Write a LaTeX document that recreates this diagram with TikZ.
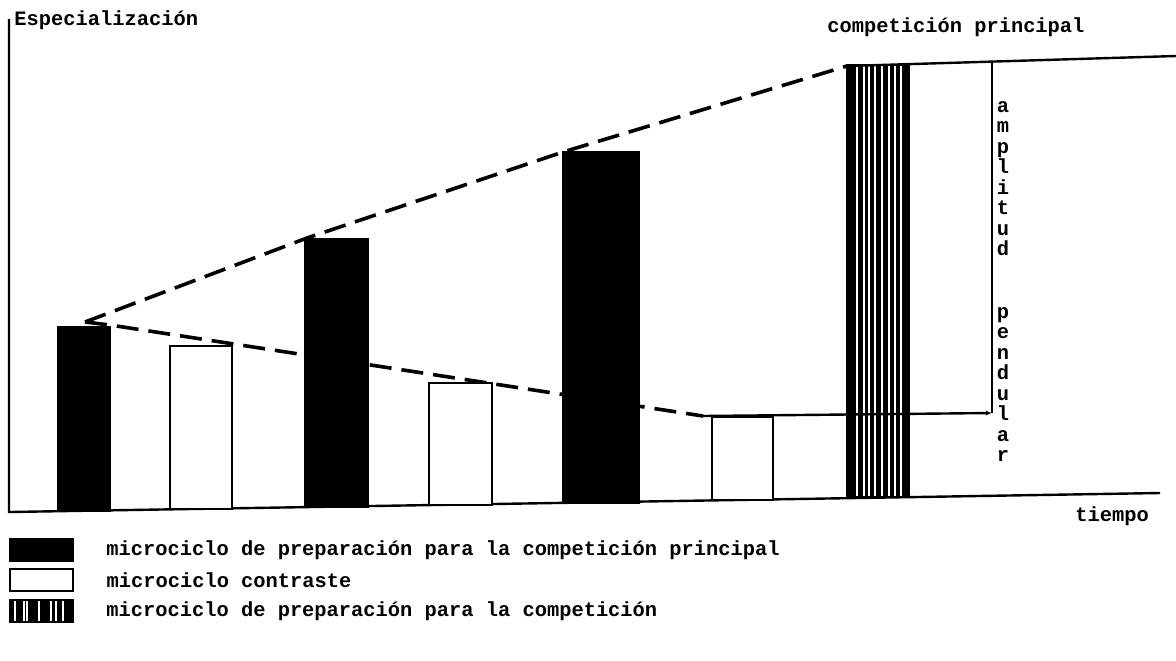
\documentclass[tikz,border=0pt]{standalone}
\usepackage{fontspec}
\setmonofont{Liberation Mono}
\usepackage{tikz}
\usetikzlibrary{positioning, arrows.meta}

\tikzset{
  dark/.style={fill=black, draw=black, line width=1pt},
  light/.style={fill=white, draw=black, line width=1.2pt},
  trend/.style={dash pattern=on 11pt off 5pt, line width=1.8pt},
  lbl/.style={font=\ttfamily\bfseries\fontsize{10.2}{12}\selectfont, inner sep=0pt},
}

\begin{document}
\begin{tikzpicture}[x=0.5pt, y=-0.5pt, >=latex]
    \useasboundingbox (0,0) rectangle (1176,660);

    % Axes
    \draw [line width=1.2pt] (9,19) -- (9,512) -- (1160,493);
    \node [lbl, anchor=base west] (spec) at (14,25) {Especialización};
    \node [lbl, anchor=base west] (comp) at (827,32) {competición principal};
    \node [lbl, anchor=base west] (time) at (1075,521) {tiempo};

    % Trend lines
    \draw [trend] (85,322) -- (307,238) -- (563,152) -- (847,66);
    \draw [trend] (85,322) -- (110,325) -- (703,416);

    % Bars
    \draw [dark] (58,511) rectangle (110,327);
    \draw [light] (170,509) rectangle (232,346);
    \draw [dark] (305,507) rectangle (368,239);
    \draw [light] (429,505) rectangle (492,383);
    \draw [dark] (563,503) rectangle (639,152);
    \draw [light] (712,500) rectangle (773,417);

    % Competition bar
    \draw [light] (847,497) rectangle (909,65);
    \foreach \a/\b in {847/856, 858/863, 865/868, 870/874, 876/881, 883/888, 890/894, 896/900, 902/909}
        \fill (\a,497) rectangle (\b,65);

    % Amplitude
    \draw [line width=1.2pt] (847,66) -- (1176,56);
    \draw [line width=1.2pt, -{Latex[length=3pt, width=2.5pt]}] (703,416) -- (992,413);
    \draw [line width=1pt] (992,61) -- (992,413);
    \foreach \ch [count=\i from 0] in {a,m,p,l,i,t,u,d}
        \node [lbl, anchor=base] at (1003, 112+\i*20.5) {\ch};
    \foreach \ch [count=\i from 0] in {p,e,n,d,u,l,a,r}
        \node [lbl, anchor=base] at (1003, 318+\i*20.5) {\ch};

    % Legend
    \node [dark, minimum width=31.5pt, minimum height=11pt, inner sep=0pt] (key1) at (41.5,550) {};
    \node [lbl, right=16pt of key1] (txt1) {microciclo de preparación para la competición principal};
    \node [light, minimum width=31.5pt, minimum height=11pt, inner sep=0pt] (key2) at (41.5,580) {};
    \node [lbl, right=16pt of key2] (txt2) {microciclo contraste};
    \node [dark, minimum width=31.5pt, minimum height=11pt, inner sep=0pt] (key3) at (41.5,611) {};
    \node [lbl, right=16pt of key3] (txt3) {microciclo de preparación para la competición};
    \foreach \dx in {3, 7.5, 9, 15, 21, 23.5, 27}
        \draw [white, line width=0.6pt] ([xshift=\dx pt, yshift=1pt]key3.south west) -- ([xshift=\dx pt, yshift=-1pt]key3.north west);

\end{tikzpicture}
\end{document}
